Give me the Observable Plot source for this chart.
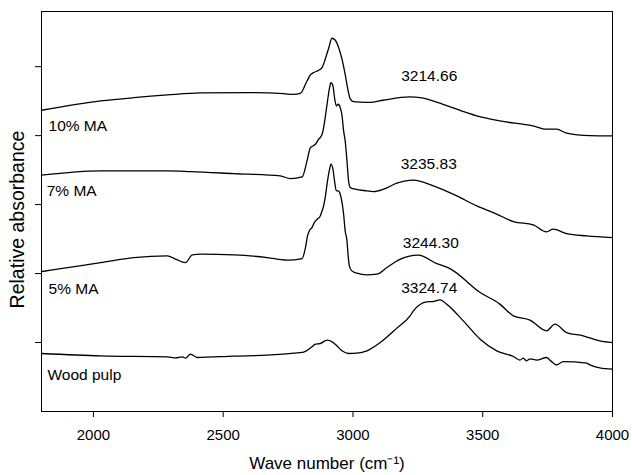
<!DOCTYPE html>
<html>
<head>
<meta charset="utf-8">
<script src="https://cdn.jsdelivr.net/npm/d3@7"></script>
<script src="https://cdn.jsdelivr.net/npm/@observablehq/plot@0.6"></script>
<style>
  html, body { margin: 0; padding: 0; background: #fff; }
  #chart { width: 632px; height: 475px; }
</style>
</head>
<body>
<div id="chart"></div>
<script>
// [wavenumber (cm-1), relative absorbance]
const ma10 = [
  [1800,4.368],[2028,4.503],[2156,4.551],[2285,4.590],[2413,4.619],[2605,4.623],[2733,4.609],[2771,4.597],[2797,4.612],
  [2823,4.793],[2836,4.880],[2848,4.913],[2868,4.948],[2881,4.986],[2893,5.107],[2907,5.275],[2919,5.412],[2932,5.383],
  [2945,5.275],[2958,5.107],[2970,4.890],[2979,4.696],[2990,4.528],[3002,4.493],[3015,4.490],[3066,4.481],[3116,4.513],
  [3220,4.561],[3259,4.551],[3347,4.455],[3438,4.333],[3477,4.286],[3566,4.213],[3693,4.141],[3746,4.093],[3785,4.093],
  [3823,4.035],[3913,4.000],[4000,3.996]
];
const ma7 = [
  [1800,3.426],[2028,3.488],[2285,3.488],[2374,3.478],[2540,3.449],[2720,3.416],[2759,3.377],[2804,3.401],
  [2823,3.633],[2836,3.826],[2846,3.851],[2855,3.875],[2868,3.948],[2881,4.020],[2887,4.116],[2893,4.261],[2902,4.503],
  [2910,4.696],[2915,4.768],[2923,4.720],[2929,4.551],[2936,4.430],[2943,4.455],[2951,4.406],[2958,4.286],[2964,4.068],
  [2970,3.923],[2977,3.633],[2983,3.343],[2990,3.246],[3009,3.223],[3054,3.199],[3079,3.188],[3118,3.223],[3169,3.310],
  [3233,3.354],[3310,3.271],[3400,3.126],[3477,2.981],[3554,2.861],[3618,2.754],[3695,2.706],[3746,2.604],[3771,2.643],
  [3823,2.580],[3900,2.546],[4000,2.522]
];
const ma5 = [
  [1800,2.029],[1836,2.049],[2028,2.159],[2156,2.232],[2285,2.257],[2317,2.209],[2355,2.159],[2381,2.271],[2413,2.281],
  [2541,2.271],[2669,2.232],[2746,2.194],[2804,2.217],[2817,2.377],[2825,2.546],[2833,2.629],[2842,2.667],[2851,2.739],
  [2862,2.788],[2874,2.836],[2881,2.909],[2887,2.981],[2893,3.101],[2902,3.343],[2910,3.513],[2915,3.586],[2923,3.513],
  [2929,3.343],[2936,3.199],[2943,3.199],[2951,3.151],[2958,3.029],[2964,2.861],[2970,2.619],[2977,2.474],[2981,2.281],
  [2986,2.112],[2996,2.039],[3015,2.006],[3054,1.981],[3092,1.991],[3131,2.087],[3175,2.194],[3252,2.267],[3323,2.145],
  [3374,2.072],[3490,1.725],[3566,1.557],[3618,1.387],[3682,1.325],[3746,1.170],[3778,1.267],[3823,1.145],[3887,1.097],
  [3951,1.025],[4000,1.000]
];
const woodPulp = [
  [1800,0.841],[2028,0.807],[2285,0.793],[2317,0.778],[2342,0.793],[2355,0.774],[2374,0.832],[2400,0.783],[2541,0.803],
  [2669,0.817],[2797,0.855],[2810,0.860],[2842,0.938],[2855,0.977],[2874,0.986],[2900,1.035],[2919,1.014],[2938,0.952],
  [2958,0.880],[2983,0.841],[3015,0.846],[3054,0.880],[3105,1.000],[3169,1.209],[3220,1.387],[3233,1.459],[3285,1.590],
  [3310,1.594],[3336,1.619],[3361,1.557],[3425,1.314],[3490,1.049],[3554,0.880],[3618,0.797],[3643,0.745],[3656,0.774],
  [3669,0.735],[3682,0.764],[3708,0.745],[3746,0.783],[3759,0.745],[3785,0.677],[3810,0.722],[3900,0.701],[3913,0.677],
  [3951,0.633],[4000,0.614]
];

const seriesNames = ["10% MA", "7% MA", "5% MA", "Wood pulp"];
const seriesLabelX = [1827, 1820, 1827, 1823];
const seriesLabelY = [4.136, 3.199, 1.774, 0.532];

const peakLabels = ["3214.66", "3235.83", "3244.30", "3324.74"];
const peakLabelX = [3294, 3292, 3300, 3294];
const peakLabelY = [4.865, 3.586, 2.441, 1.797];

const xTicks = [2000, 2500, 3000, 3500, 4000];
const yTicks = [1, 2, 3, 4, 5];
const xTitle = "Wave number (cm\u207B\u00B9)";
const yTitle = "Relative absorbance";

const seriesData = [ma10, ma7, ma5, woodPulp];
const rows = seriesData.flatMap((arr, i) => arr.map(([w, a]) => ({series: seriesNames[i], w, a})));
const seriesLabelRows = seriesNames.map((t, i) => ({t, x: seriesLabelX[i], y: seriesLabelY[i]}));
const peakRows = peakLabels.map((t, i) => ({t, x: peakLabelX[i], y: peakLabelY[i]}));

const chart = Plot.plot({
  width: 632,
  height: 475,
  marginLeft: 41,
  marginRight: 20,
  marginTop: 11,
  marginBottom: 64,
  style: {fontFamily: "'Liberation Sans', Arial, sans-serif", background: "#fff", color: "#000"},
  x: {domain: [1800, 4000]},
  y: {domain: [0, 5.8]},
  marks: [
    Plot.axisX({ticks: xTicks, tickSize: 6, tickPadding: 12, fontSize: 15, tickFormat: d => String(d), label: null}),
    Plot.axisY({ticks: yTicks, tickSize: 6, tickFormat: () => "", label: null}),
    Plot.frame({stroke: "#000", strokeWidth: 1}),
    Plot.line(rows, {x: "w", y: "a", z: "series", curve: "monotone-x", stroke: "#000", strokeWidth: 1.3}),
    Plot.text(seriesLabelRows, {x: "x", y: "y", text: "t", textAnchor: "start", lineAnchor: "middle", fontSize: 15.5, fill: "#000"}),
    Plot.text(peakRows, {x: "x", y: "y", text: "t", textAnchor: "middle", lineAnchor: "middle", fontSize: 15.5, fill: "#000"}),
    Plot.text([xTitle], {frameAnchor: "bottom", dy: 52, textAnchor: "middle", lineAnchor: "middle", fontSize: 17, fill: "#000"}),
    Plot.text([yTitle], {frameAnchor: "left", rotate: -90, dx: -24, dy: 8, textAnchor: "middle", lineAnchor: "middle", fontSize: 19.5, fill: "#000"})
  ]
});
document.getElementById("chart").appendChild(chart);
</script>
</body>
</html>
